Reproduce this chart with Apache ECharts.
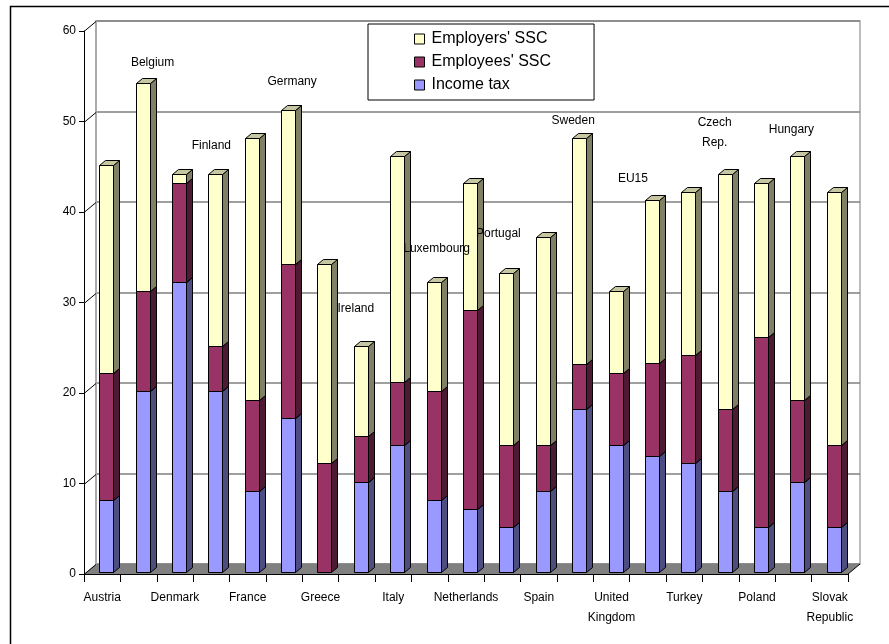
<!DOCTYPE html>
<html>
<head>
<meta charset="utf-8">
<script src="https://cdn.jsdelivr.net/npm/echarts@6/dist/echarts.min.js"></script>
<style>
  html, body { margin: 0; padding: 0; background: #fff; }
  #chart { width: 889px; height: 644px; }
</style>
</head>
<body>
<div id="chart"></div>
<script>
const categories = ['Austria', 'Belgium', 'Denmark', 'Finland', 'France', 'Germany', 'Greece',
  'Ireland', 'Italy', 'Luxembourg', 'Netherlands', 'Portugal', 'Spain', 'Sweden',
  'United\nKingdom', 'EU15', 'Turkey', 'Czech\nRep.', 'Poland', 'Hungary', 'Slovak\nRepublic'];
const incomeTax    = [8, 20, 32, 20, 9, 17, 0, 10, 14, 8, 7, 5, 9, 18, 14, 12.8, 12, 9, 5, 10, 5];
const employeesSSC = [14, 11, 11, 5, 10, 17, 12, 5, 7, 12, 22, 9, 5, 5, 8, 10.3, 12, 9, 21, 9, 9];
const employersSSC = [23, 23, 1, 19, 29, 17, 22, 10, 25, 12, 14, 19, 23, 25, 9, 18, 18, 26, 17, 27, 28];
const yTicks = [0, 10, 20, 30, 40, 50, 60];

// 3d look
const DX = 12, DY = -10;            // depth of the back wall
const BAR_W = 14, SX = 6, SY = -5;  // bar face width and side depth
const SHIFT_X = 4, SHIFT_Y = -2;
const FONT = '"Liberation Sans", Arial, sans-serif';

// nudges for the labels written above the bars (they were hand placed text boxes)
const topLabelNudge = {
  1: [14, -21], 3: [0, -29], 5: [8, -29], 7: [-1, -38], 9: [7, -34],
  11: [-4, -40], 13: [-2, -18], 15: [-15, -22], 17: [-6, -42], 19: [-2, -27]
};

const chart = echarts.init(document.getElementById('chart'), null, { renderer: 'canvas' });

function stackRows(lower, values) {
  return values.map((v, i) => [i, lower[i], lower[i] + v]);
}
const base0 = categories.map(() => 0);
const base1 = incomeTax.slice();
const base2 = incomeTax.map((v, i) => v + employeesSSC[i]);

function barRenderer(front, side, top, withLabels) {
  return function (params, api) {
    const cat = api.value(0), lo = api.value(1), hi = api.value(2);
    const kids = [];
    const pLo = api.coord([cat, lo]);
    const pHi = api.coord([cat, hi]);
    const cx = pLo[0];
    const x0 = Math.round(cx + SHIFT_X - BAR_W / 2) + 0.5;
    const x1 = x0 + BAR_W;
    const yb = Math.round(pLo[1] + SHIFT_Y) + 0.5;
    const yt = Math.round(pHi[1] + SHIFT_Y) + 0.5;
    const ln = { stroke: '#000', lineWidth: 1 };
    if (hi - lo > 0) {
      kids.push({ type: 'polygon', shape: { points: [[x1, yb], [x1 + SX, yb + SY], [x1 + SX, yt + SY], [x1, yt]] },
        style: Object.assign({ fill: side }, ln) });
      kids.push({ type: 'polygon', shape: { points: [[x0, yt], [x0 + SX, yt + SY], [x1 + SX, yt + SY], [x1, yt]] },
        style: Object.assign({ fill: top }, ln) });
      kids.push({ type: 'rect', shape: { x: x0, y: yt, width: BAR_W, height: yb - yt },
        style: Object.assign({ fill: front }, ln) });
    }
    if (withLabels && cat % 2 === 1) {
      const n = topLabelNudge[cat] || [0, -28];
      kids.push({ type: 'text', x: cx + n[0], y: yt + n[1], z2: 100,
        style: { text: categories[cat], fill: '#000', font: '12px ' + FONT,
          align: 'center', verticalAlign: 'middle', lineHeight: 20 } });
    }
    return { type: 'group', children: kids };
  };
}

function floorRenderer(params, api) {
  const cs = params.coordSys;
  const x = cs.x, yb = cs.y + cs.height, w = cs.width;
  const kids = [{
    type: 'polygon',
    shape: { points: [[x, yb], [x + w, yb], [x + w + DX, yb + DY], [x + DX, yb + DY]] },
    style: { fill: '#808080' }
  }];
  yTicks.forEach(v => {
    const py = Math.round(api.coord([0, v])[1]) + 0.5;
    kids.push({ type: 'line', shape: { x1: x, y1: py, x2: x + DX, y2: py + DY },
      style: { stroke: '#000', lineWidth: 1 } });
  });
  kids.push({ type: 'line', shape: { x1: x + w, y1: yb, x2: x + w + DX, y2: yb + DY },
    style: { stroke: '#000', lineWidth: 1 } });
  return { type: 'group', children: kids };
}

const option = {
  animation: false,
  backgroundColor: '#fff',
  graphic: [{
    type: 'rect', left: 8, top: 4, z: 100, silent: true,
    shape: { width: 900, height: 660 },
    style: { fill: 'none', stroke: '#000', lineWidth: 1.5 }
  }],
  legend: {
    data: ["Employers' SSC", "Employees' SSC", 'Income tax'],
    orient: 'vertical',
    left: 368, top: 24,
    padding: [7, 43, 7, 46],
    itemGap: 7,
    itemWidth: 10, itemHeight: 10,
    icon: 'rect',
    backgroundColor: '#fff',
    borderColor: '#000', borderWidth: 1,
    itemStyle: { borderColor: '#000', borderWidth: 1 },
    textStyle: { fontSize: 16, fontFamily: FONT, color: '#000', padding: [0, 0, 0, 2] },
    z: 20
  },
  grid: [
    { left: 84, top: 31, width: 764, height: 543 },
    { left: 84 + DX, top: 31 + DY, width: 764, height: 543, show: true,
      borderColor: '#a6a6a6', borderWidth: 1.5, backgroundColor: 'transparent', z: 0 }
  ],
  xAxis: [
    {
      type: 'category', data: categories, gridIndex: 0,
      axisLine: { lineStyle: { color: '#000', width: 1 } },
      axisTick: { show: true, length: 8, interval: 0, lineStyle: { color: '#000' } },
      axisLabel: {
        interval: 0, margin: 14, color: '#000', fontSize: 12, fontFamily: FONT, lineHeight: 20,
        formatter: (v, i) => (i % 2 === 0 ? v : '')
      },
      z: 10
    },
    { type: 'category', data: categories, gridIndex: 1, show: false }
  ],
  yAxis: [
    {
      type: 'value', gridIndex: 0, min: 0, max: 60, interval: 10,
      axisLine: { show: true, lineStyle: { color: '#000', width: 1 } },
      axisTick: { show: true, length: 5, lineStyle: { color: '#000' } },
      axisLabel: { color: '#000', fontSize: 12, fontFamily: FONT, margin: 8 },
      splitLine: { show: false },
      z: 10
    },
    {
      type: 'value', gridIndex: 1, min: 0, max: 60, interval: 10,
      axisLine: { show: true, lineStyle: { color: '#a6a6a6', width: 1.5 } },
      axisTick: { show: false }, axisLabel: { show: false },
      splitLine: { show: true, lineStyle: { color: '#7f7f7f', width: 1.5 } }
    }
  ],
  series: [
    {
      name: 'floor', type: 'custom', xAxisIndex: 0, yAxisIndex: 0, silent: true, z: 1,
      renderItem: floorRenderer, data: [[0, 0]], encode: { x: 0, y: 1 }
    },
    {
      name: 'Income tax', type: 'custom', xAxisIndex: 0, yAxisIndex: 0, z: 3,
      itemStyle: { color: '#9999ff' },
      renderItem: barRenderer('#9999ff', '#4d4d80', '#7373bf', false),
      data: stackRows(base0, incomeTax), encode: { x: 0, y: [1, 2] }
    },
    {
      name: "Employees' SSC", type: 'custom', xAxisIndex: 0, yAxisIndex: 0, z: 4,
      itemStyle: { color: '#993366' },
      renderItem: barRenderer('#993366', '#4d1a33', '#73264d', false),
      data: stackRows(base1, employeesSSC), encode: { x: 0, y: [1, 2] }
    },
    {
      name: "Employers' SSC", type: 'custom', xAxisIndex: 0, yAxisIndex: 0, z: 5,
      itemStyle: { color: '#ffffcc' },
      renderItem: barRenderer('#ffffcc', '#808066', '#c6c6a0', true),
      data: stackRows(base2, employersSSC), encode: { x: 0, y: [1, 2] }
    }
  ]
};

chart.setOption(option);
</script>
</body>
</html>
